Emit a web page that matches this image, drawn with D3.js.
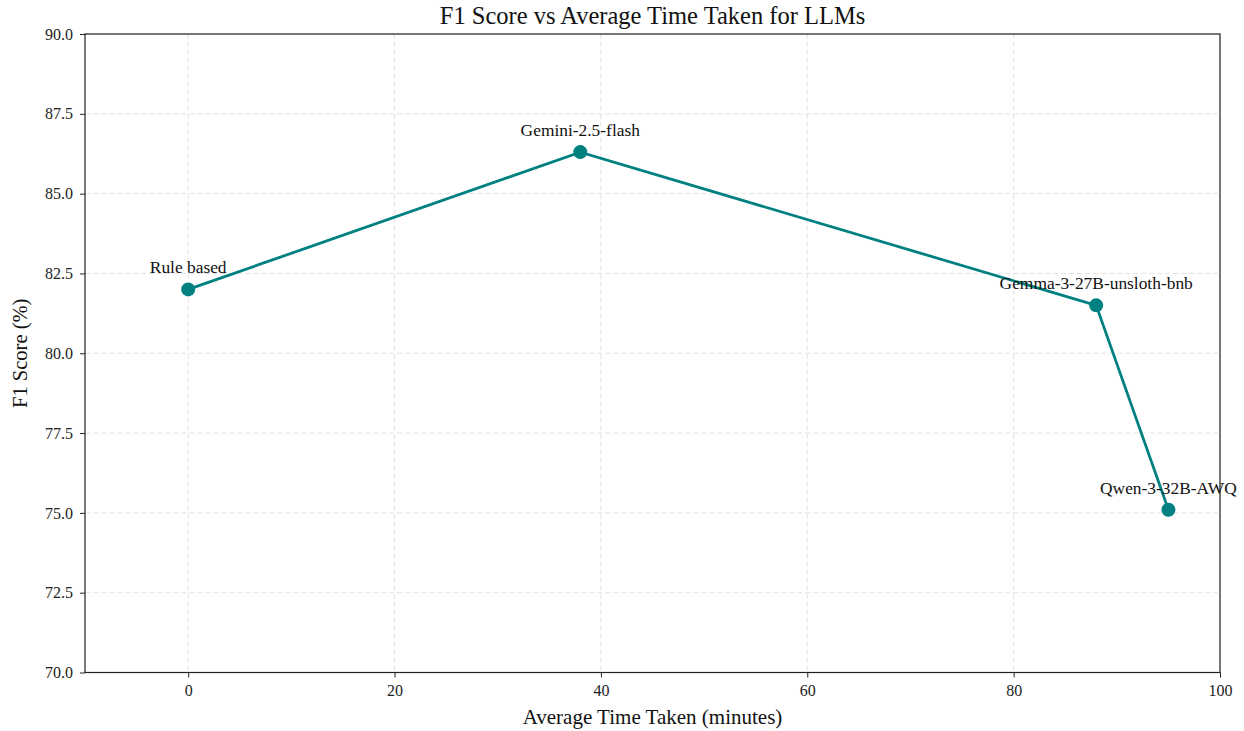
<!DOCTYPE html>
<html><head><meta charset="utf-8">
<script src="https://cdn.jsdelivr.net/npm/d3@7"></script>
<style>body{margin:0;background:#fff}svg{display:block}text{font-family:"Liberation Serif","Times New Roman",serif}</style>
</head><body><svg id="c" width="1244" height="731"></svg>
<script>
const models = ["Rule based","Gemini-2.5-flash","Gemma-3-27B-unsloth-bnb","Qwen-3-32B-AWQ"];
const times = [0,38,88,95];
const f1 = [82.0,86.3,81.5,75.1];
const xTicks = [0,20,40,60,80,100];
const yTicks = [70,72.5,75,77.5,80,82.5,85,87.5,90];

const svg = d3.select("#c");
const m = {l:85,r:1220,t:34,b:672.5};
const x = d3.scaleLinear().domain([-10,100]).range([m.l,m.r]);
const y = d3.scaleLinear().domain([70,90]).range([m.b,m.t]);
const color = "#008080";

const g = svg.append("g");
g.selectAll(".gx").data(xTicks).join("line").attr("x1",d=>x(d)).attr("x2",d=>x(d)).attr("y1",m.t).attr("y2",m.b)
 .attr("stroke","#e3e3e3").attr("stroke-width",1).attr("stroke-dasharray","5,3");
g.selectAll(".gy").data(yTicks).join("line").attr("y1",d=>y(d)).attr("y2",d=>y(d)).attr("x1",m.l).attr("x2",m.r)
 .attr("stroke","#e3e3e3").attr("stroke-width",1).attr("stroke-dasharray","5,3");

const xa = svg.append("g").attr("transform",`translate(0,${m.b})`).call(d3.axisBottom(x).tickValues(xTicks).tickFormat(d3.format("d")).tickSize(5).tickPadding(7));
const ya = svg.append("g").attr("transform",`translate(${m.l},0)`).call(d3.axisLeft(y).tickValues(yTicks).tickFormat(d3.format(".1f")).tickSize(5).tickPadding(7));
[xa,ya].forEach(a=>{a.selectAll("text").attr("font-size",16).attr("fill","#222").style("font-family","Liberation Serif");a.select(".domain").remove();a.selectAll("line").attr("stroke","#222")});
svg.append("rect").attr("x",m.l).attr("y",m.t).attr("width",m.r-m.l).attr("height",m.b-m.t).attr("fill","none").attr("stroke","#222").attr("stroke-width",1.2);

const pts = times.map((t,i)=>({t,v:f1[i],n:models[i]}));
svg.append("path").datum(pts).attr("d",d3.line().x(d=>x(d.t)).y(d=>y(d.v))).attr("fill","none").attr("stroke",color).attr("stroke-width",2.8);
svg.selectAll(".pt").data(pts).join("circle").attr("cx",d=>x(d.t)).attr("cy",d=>y(d.v)).attr("r",7).attr("fill",color);
svg.selectAll(".lb").data(pts).join("text").attr("x",d=>x(d.t)).attr("y",d=>y(d.v)-16).attr("text-anchor","middle")
 .attr("font-size",17.4).attr("fill","#111").text(d=>d.n);

svg.append("text").attr("x",(m.l+m.r)/2).attr("y",24).attr("text-anchor","middle").attr("font-size",24.5).attr("fill","#111").text("F1 Score vs Average Time Taken for LLMs");
svg.append("text").attr("x",(m.l+m.r)/2).attr("y",724).attr("text-anchor","middle").attr("font-size",21).attr("fill","#111").text("Average Time Taken (minutes)");
svg.append("text").attr("transform",`translate(27,${(m.t+m.b)/2}) rotate(-90)`).attr("text-anchor","middle").attr("font-size",20.5).attr("fill","#111").text("F1 Score (%)");
</script></body></html>
